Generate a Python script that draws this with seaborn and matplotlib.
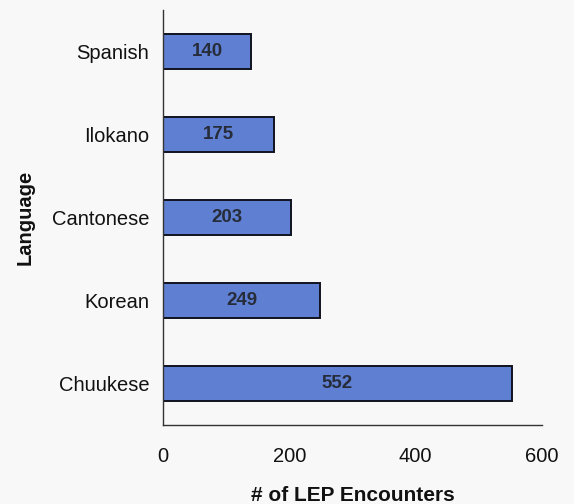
import matplotlib
matplotlib.use("Agg")
import matplotlib.pyplot as plt
import seaborn as sns
import pandas as pd

languages = ["Spanish", "Ilokano", "Cantonese", "Korean", "Chuukese"]
encounters = [140, 175, 203, 249, 552]

df = pd.DataFrame({"Language": languages, "Encounters": encounters})

sns.set_style("white")
plt.rcParams["font.family"] = ["Liberation Sans", "DejaVu Sans"]
plt.rcParams["text.color"] = "#111111"
plt.rcParams["axes.labelcolor"] = "#111111"
plt.rcParams["xtick.color"] = "#111111"
plt.rcParams["ytick.color"] = "#111111"

fig = plt.figure(figsize=(5.74, 5.04), dpi=100, facecolor="#f8f8f8")
ax = fig.add_axes([0.284, 0.157, 0.66, 0.823])
ax.set_facecolor("#f8f8f8")

sns.barplot(data=df, x="Encounters", y="Language", orient="h", color="#5f7fd2",
            width=0.42, edgecolor="#10131f", linewidth=1.4, saturation=1, ax=ax)

for i, v in enumerate(encounters):
    ax.text(v / 2, i, str(v), ha="center", va="center", fontsize=13.5,
            fontweight="bold", color="#262c3a")

ax.set_xlim(0, 600)
ax.set_xticks([0, 200, 400, 600])
ax.tick_params(axis="x", labelsize=14.5, length=4, pad=12, color="#333333")
ax.tick_params(axis="y", labelsize=14.5, length=0, pad=10)
ax.set_xlabel("# of LEP Encounters", fontsize=15, fontweight="bold", labelpad=14)
ax.set_ylabel("Language", fontsize=14.5, fontweight="bold", labelpad=12)

sns.despine(ax=ax, top=True, right=True)
for s in ["left", "bottom"]:
    ax.spines[s].set_color("#333333")
    ax.spines[s].set_linewidth(1.0)

fig.savefig("out.png", dpi=100, facecolor=fig.get_facecolor())
